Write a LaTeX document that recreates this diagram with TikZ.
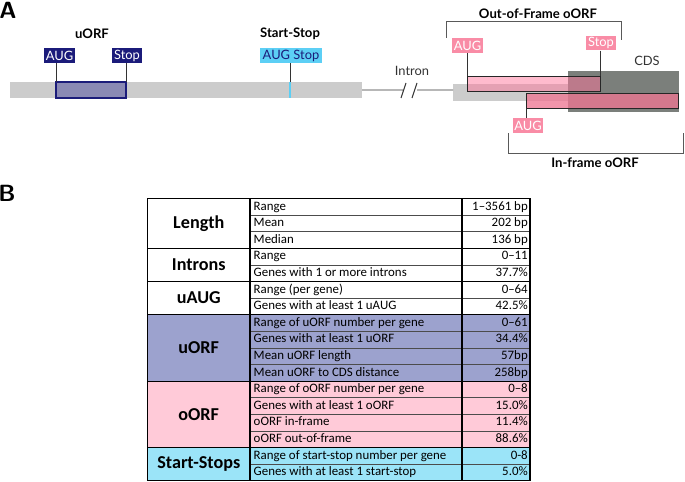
\documentclass[tikz,border=0pt]{standalone}
\usepackage{fontspec}
\setmainfont{Carlito}
\newfontfamily\labfont{Lato}
\usetikzlibrary{positioning}
\definecolor{navy}{HTML}{1B1B7A}
\definecolor{uorffill}{HTML}{8A89B4}
\definecolor{ssblue}{HTML}{5CCFF5}
\definecolor{tagpink}{HTML}{F98CA6}
\definecolor{oofpink}{RGB}{255,120,155}
\definecolor{ifpink}{RGB}{238,119,147}
\definecolor{barg}{HTML}{CCCCCC}
\definecolor{cdsg}{HTML}{5A5F5A}
\definecolor{tuorf}{HTML}{9CA2CE}
\definecolor{toorf}{HTML}{FFCAD8}
\definecolor{tss}{HTML}{9BE4F8}
\tikzset{
  tag/.style={inner xsep=1.5pt, inner ysep=0pt, minimum height=12.8pt,
    font=\labfont\fontsize{11}{12}\selectfont, text=white},
  ttl/.style={font=\labfont\bfseries\fontsize{11.2}{13}\selectfont},
  plain/.style={font=\labfont\fontsize{11}{13}\selectfont, text=black!80},
  stem/.style={draw=black!80, line width=0.85pt},
  brace/.style={draw=black!65, line width=0.85pt},
  cell/.style={inner sep=0pt, text height=7.5pt, text depth=2pt, font=\fontsize{11}{13}\selectfont},
  grp/.style={font=\bfseries\fontsize{15.5}{18}\selectfont},
  rowline/.style={draw=black!70, line width=0.4pt},
  grpline/.style={draw=black, line width=0.9pt}
}
\begin{document}
\begin{tikzpicture}[x=0.03cm, y=-0.03cm]
\useasboundingbox (0,0) rectangle (685,481);
% panel letters
\node[font=\sffamily\bfseries\fontsize{20}{22}\selectfont] (pa) at (8,10) {A};
\node[font=\sffamily\bfseries\fontsize{20}{22}\selectfont] (pb) at (7,193) {B};

% transcript
\fill[barg] (10,82) rectangle (362,98);
\fill[barg] (453,84) rectangle (568,101);
\draw[navy, fill=uorffill, line width=1pt] (56,82) rectangle (126,98);
\draw[ssblue, line width=1.2pt] (290,82) -- (290,98);
\fill[cdsg, opacity=0.8] (568,71) rectangle (679,112);
\draw[draw=black!85, line width=0.85pt, fill=oofpink, fill opacity=0.5] (467,76) rectangle (600,91);
\draw[draw=black!85, line width=0.85pt, fill=ifpink, fill opacity=0.78] (526,93) rectangle (678,108);

% intron
\coordinate (i1) at (362,90);
\coordinate (i2) at (404,90);
\coordinate (i3) at (417,90);
\coordinate (i4) at (453,90);
\draw[black!80, line width=0.85pt] (i1) -- (i2) (i3) -- (i4)
  (401,98) -- (406,83) (412,98) -- (417,83);
\node[plain] (intron) at (412,71) {Intron};
\node[plain] (cds) at (647,61) {CDS};

% tags
\path (59.5,55.5) node[tag, fill=navy] (uaug) {AUG}
  (127,55.5) node[tag, fill=navy] (ustop) {Stop}
  (291,55.5) node[tag, fill=ssblue, text=navy, inner xsep=2pt] (ss) {AUG Stop}
  (467.5,45.5) node[tag, fill=tagpink] (oaug) {AUG}
  (601,43) node[tag, fill=tagpink] (ostop) {Stop}
  (528,125.5) node[tag, fill=tagpink] (iaug) {AUG};
\coordinate (ua) at (56,82);
\coordinate (us) at (126,82);
\coordinate (sb) at (290,82);
\coordinate (oa) at (467,76);
\coordinate (os) at (600,76);
\coordinate (ia) at (526,108);
\draw[stem] (ua |- uaug.south) -- (ua);
\draw[stem] (us |- ustop.south) -- (us);
\draw[stem] (sb |- ss.south) -- (sb);
\draw[stem] (oa |- oaug.south) -- (oa);
\draw[stem] (os |- ostop.south) -- (os);
\draw[stem] (ia |- iaug.north) -- (ia);

% titles and brackets
\node[ttl] (tu) at (92,34) {uORF};
\node[ttl] (tss) at (290,34) {Start-Stop};
\node[ttl] (toof) at (538,14) {Out-of-Frame oORF};
\node[ttl] (tif) at (595,163) {In-frame oORF};
\draw[brace] (446,38) -- (446,21) -- (621,21) -- (621,40);
\draw[brace] (508,133) -- (508,153) -- (683,153) -- (683,133);

% table
\fill[tuorf] (147.5,314.7) rectangle (530,381.1);
\fill[toorf] (147.5,381.1) rectangle (530,447.5);
\fill[tss] (147.5,447.5) rectangle (530,480.7);
\foreach \txt/\val [count=\i] in {Range/1–3561 bp, Mean/202 bp, Median/136 bp,
    Range/0–11, Genes with 1 or more introns/37.7\%,
    Range (per gene)/0–64, Genes with at least 1 uAUG/42.5\%,
    Range of uORF number per gene/0–61, Genes with at least 1 uORF/34.4\%,
    Mean uORF length/57bp, Mean uORF to CDS distance/258bp,
    Range of oORF number per gene/0–8, Genes with at least 1 oORF/15.0\%,
    oORF in-frame/11.4\%, oORF out-of-frame/88.6\%,
    Range of start-stop number per gene/0-8, Genes with at least 1 start-stop/5.0\%}{
  \pgfmathsetmacro\yy{198.5+(\i-0.5)*16.6}
  \node[cell, anchor=west] (k\i) at (253.5,\yy) {\txt};
  \node[cell, anchor=east] (v\i) at (528,\yy) {\val};
}
\foreach \g/\a/\b in {Length/0/3, Introns/3/5, uAUG/5/7, uORF/7/11, oORF/11/15, Start-Stops/15/17}
  \node[grp] (g\a) at (198.75,{198.5+(\a+\b)/2*16.6}) {\g};
\foreach \i in {1,2,4,6,8,9,10,12,13,14,16}
  \draw[rowline] (250,{198.5+\i*16.6}) -- (530,{198.5+\i*16.6});
\foreach \i in {3,5,7,11,15}
  \draw[grpline] (147.5,{198.5+\i*16.6}) -- (530,{198.5+\i*16.6});
\draw[grpline] (250,198.5) -- (250,480.7) (462,198.5) -- (462,480.7);
\draw[line width=1.2pt] (147.5,198.5) rectangle (530,480.7);
\end{tikzpicture}
\end{document}
